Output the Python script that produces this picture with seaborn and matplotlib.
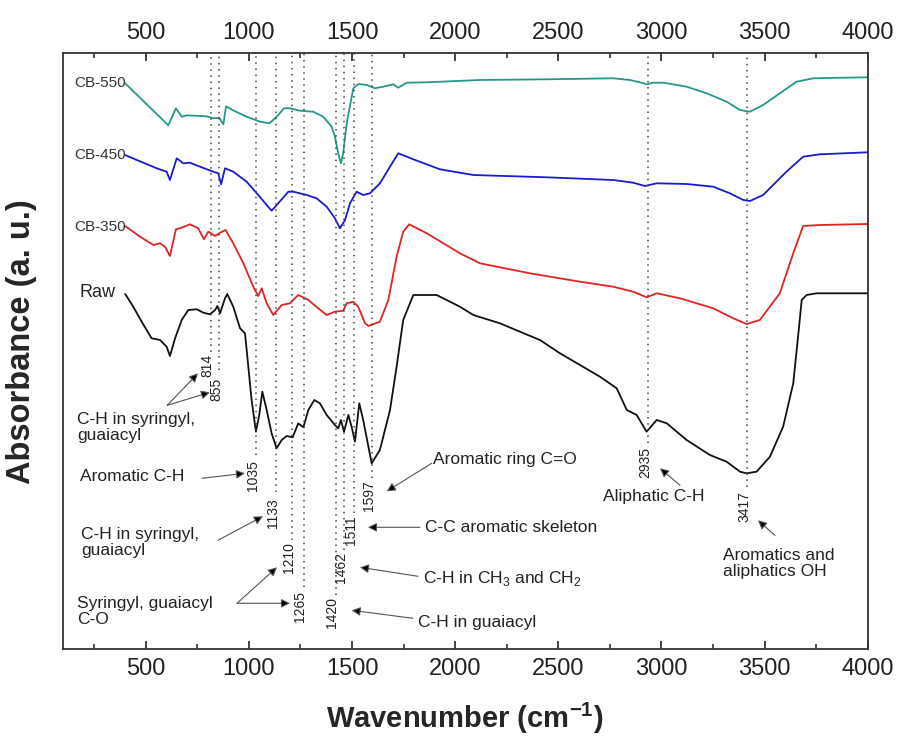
import numpy as np
import pandas as pd
import matplotlib
matplotlib.use("Agg")
import matplotlib.pyplot as plt
from matplotlib.ticker import MultipleLocator
import seaborn as sns

# FTIR spectra (y in arbitrary stacked absorbance units)
w_550 = [400, 609, 646, 674, 698, 795, 827, 856, 876, 889, 923, 989, 1054, 1099, 1135, 1170, 1199, 1247,
         1312, 1360, 1401, 1417, 1433, 1446, 1457, 1474, 1506, 1530, 1571, 1611, 1651, 1700, 1724, 1765,
         1862, 2120, 2443, 2766, 2847, 2904, 2928, 2960, 3010, 3122, 3219, 3316, 3381, 3429, 3493, 3574,
         3655, 3736, 3850, 4000]
a_550 = [566, 524, 541, 532.6, 534, 533, 531, 531.6, 525, 543, 539, 532.6, 527.6, 526, 532.6, 541, 541, 538.6,
         537.6, 532.6, 522.6, 512.6, 496, 486, 496, 526, 561, 565.3, 564.3, 561, 562.6, 565, 561.6, 566.6,
         567, 569.3, 570, 571, 569.3, 566.6, 565, 566.6, 566.6, 562.6, 556, 547.6, 539.3, 537.6, 544.3, 556,
         567.6, 571, 571.5, 572]

w_450 = [400, 456, 553, 601, 617, 650, 682, 714, 763, 827, 851, 865, 884, 924, 989, 1045, 1086, 1110, 1142,
         1191, 1215, 1280, 1328, 1377, 1417, 1441, 1466, 1490, 1522, 1554, 1587, 1635, 1684, 1724, 1797,
         1926, 2088, 2443, 2766, 2863, 2920, 2977, 3122, 3251, 3332, 3397, 3429, 3493, 3606, 3687, 3768, 4000]
a_450 = [494.3, 489.3, 481, 477.6, 469.3, 491, 486, 486.6, 482.6, 477.6, 476, 465, 481, 477.6, 467.6, 454.3,
         444.3, 438.6, 446, 457.6, 457.6, 454.3, 451, 442.6, 431, 421, 429.3, 446, 457.6, 454.3, 456, 466,
         482.6, 496, 490, 480, 474.3, 472, 469.3, 466.6, 463.3, 466, 465.3, 462.6, 456, 449.3, 448.3, 454.3,
         477.6, 492.6, 495, 497]

w_350 = [400, 472, 537, 569, 593, 617, 646, 666, 714, 754, 782, 803, 836, 860, 887, 924, 973, 1021, 1045,
         1062, 1086, 1118, 1159, 1199, 1239, 1288, 1336, 1377, 1417, 1457, 1474, 1506, 1530, 1563, 1579,
         1635, 1676, 1716, 1748, 1777, 1862, 2023, 2120, 2362, 2605, 2766, 2863, 2928, 2977, 3090, 3251,
         3348, 3413, 3477, 3574, 3639, 3687, 3768, 4000]
a_350 = [423.3, 412.6, 404.3, 406, 402.6, 393.3, 420, 421, 425, 421, 410, 417.6, 413.3, 416.6, 419.3, 406,
         386, 362.6, 353.3, 361, 346, 334.3, 344.3, 346, 354.3, 349.3, 341, 334.3, 337.6, 338.6, 346, 347.6,
         342.6, 326, 323.3, 327.6, 349.3, 392.6, 417.6, 425, 416, 396, 386, 376, 367.6, 362.6, 357.6, 352,
         356, 351, 341, 331, 325.3, 329.3, 356, 396, 423.3, 424.3, 425.3]

w_raw = [400, 439, 480, 528, 569, 601, 617, 642, 674, 706, 747, 779, 811, 836, 847, 860, 884, 895, 924, 957,
         981, 1013, 1034, 1050, 1065, 1086, 1110, 1134, 1159, 1183, 1212, 1239, 1264, 1288, 1317, 1344,
         1377, 1417, 1433, 1446, 1461, 1482, 1498, 1514, 1535, 1554, 1595, 1635, 1684, 1716, 1748, 1797,
         1910, 2023, 2088, 2217, 2314, 2411, 2508, 2605, 2702, 2783, 2832, 2880, 2928, 2977, 3026, 3122,
         3235, 3316, 3381, 3413, 3461, 3526, 3590, 3639, 3664, 3680, 3704, 3752, 4000]
a_raw = [355.3, 342.6, 327.6, 311, 309.3, 302.6, 293.3, 311, 329.3, 339.3, 340, 336.6, 335, 339.3, 343.3, 336,
         351, 355.3, 342.6, 321, 316, 249.3, 217.6, 234.3, 257.6, 239.3, 216, 201, 209.3, 213.3, 212, 226,
         222, 239.3, 249.3, 246, 234.3, 224.3, 221, 229.3, 217.6, 234.3, 222.6, 207.6, 246, 229.3, 186,
         199.3, 239.3, 282.6, 329.3, 354.3, 354.3, 342.6, 334.3, 326, 317.6, 309.3, 296, 284.3, 272.6, 261,
         239.3, 234.3, 217.6, 229.3, 226, 209.3, 194.3, 187.6, 177.6, 176, 177.6, 192.6, 222.6, 266, 316,
         349.3, 354.3, 356, 356]

colors = {"CB-550": "#25978a", "CB-450": "#1a1ad0", "CB-350": "#e02424", "Raw": "#111111"}

# assigned bands: wavenumber, where the dotted line stops, label height
peaks = [814, 855, 1035, 1133, 1210, 1265, 1420, 1462, 1511, 1597, 2935, 3417]
line_bottom = [297, 279, 194, 157, 109, 62, 54, 99, 136, 171, 206, 162]
label_y = [284, 260, 174, 136, 92, 43, 37, 82, 119, 154, 187, 143]

sns.set_theme(style="white")
plt.rcParams["font.family"] = ["Liberation Sans", "DejaVu Sans"]
plt.rcParams["mathtext.fontset"] = "custom"
plt.rcParams["mathtext.rm"] = "Liberation Sans"
plt.rcParams["mathtext.bf"] = "Liberation Sans:bold"

df = pd.concat([
    pd.DataFrame({"wavenumber": w, "absorbance": a, "sample": s})
    for w, a, s in [(w_550, a_550, "CB-550"), (w_450, a_450, "CB-450"),
                    (w_350, a_350, "CB-350"), (w_raw, a_raw, "Raw")]
])

fig = plt.figure(figsize=(8.99, 7.38), dpi=100)
ax = fig.add_axes([63.3 / 899, 1 - 649.3 / 738, 804.4 / 899, 596.6 / 738])

sns.lineplot(data=df, x="wavenumber", y="absorbance", hue="sample", palette=colors,
             estimator=None, sort=False, legend=False, linewidth=1.3, ax=ax)

ax.set_xlim(100, 4000)
ax.set_ylim(0, 596.6)
ax.set_yticks([])
ax.set_xlabel("")
ax.set_ylabel("")

ax.vlines(peaks, line_bottom, 596.6, colors="#444444", linestyles=(0, (1, 3)), linewidth=1.1)
for p, y in zip(peaks, label_y):
    ax.text(p - 15, y, str(p), rotation=90, ha="center", va="center", fontsize=10, color="#222222")

# sample names at the start of each curve
ax.text(405, 566, "CB-550", ha="right", va="center", fontsize=11, color="#333333")
ax.text(405, 494, "CB-450", ha="right", va="center", fontsize=11, color="#333333")
ax.text(405, 422, "CB-350", ha="right", va="center", fontsize=11, color="#333333")
ax.text(355, 357, "Raw", ha="right", va="center", fontsize=13, color="#222222")

akw = dict(arrowstyle="-|>", fc="black", ec="#555555", lw=0.8, mutation_scale=13, shrinkA=0, shrinkB=0)
notes = [
    ("C-H in syringyl,\nguaiacyl", (166, 222), (604, 244), [(753, 276), (811, 257)]),
    ("Aromatic C-H", (181, 173), (772, 171), [(981, 176)]),
    ("C-H in syringyl,\nguaiacyl", (186, 107), (850, 109), [(1068, 133)]),
    ("Syringyl, guaiacyl\nC-O", (166, 38), (942, 46), [(1136, 82), (1199, 46)]),
    ("Aromatic ring C=O", (1892, 190), (1886, 186), [(1668, 158)]),
    ("C-C aromatic skeleton", (1853, 122), (1829, 122), [(1577, 122)]),
    ("C-H in CH$_3$ and CH$_2$", (1844, 71), (1820, 73), [(1538, 82)]),
    ("C-H in guaiacyl", (1820, 27), (1795, 31), [(1498, 39)]),
    ("Aliphatic C-H", (2716, 153), (3090, 164), [(2993, 181)]),
    ("Aromatics and\naliphatics OH", (3298, 86), (3550, 114), [(3468, 129)]),
]
for txt, pos, tail, heads in notes:
    ax.text(pos[0], pos[1], txt, ha="left", va="center", fontsize=12.5, color="#222222", linespacing=1.1)
    for h in heads:
        ax.annotate("", xy=h, xytext=tail, arrowprops=akw)

ax.xaxis.set_major_locator(MultipleLocator(500))
ax.xaxis.set_minor_locator(MultipleLocator(250))
ax.tick_params(axis="x", which="both", direction="in", top=True, labeltop=True, bottom=True,
               labelbottom=True, labelsize=17, pad=6, colors="#222222")
ax.tick_params(axis="x", which="major", length=6, width=1.2)
ax.tick_params(axis="x", which="minor", length=3.5, width=1.1)
for sp in ax.spines.values():
    sp.set_visible(True)
    sp.set_color("#333333")
    sp.set_linewidth(1.3)

fig.text(22 / 899, 1 - 342 / 738, "Absorbance (a. u.)", rotation=90, ha="center", va="center",
         fontsize=23.5, fontweight="bold")
fig.text(465 / 899, 1 - 718 / 738, r"Wavenumber (cm$^{\mathbf{-1}}$)", ha="center", va="center",
         fontsize=21, fontweight="bold")

fig.savefig("out.png", dpi=100)
